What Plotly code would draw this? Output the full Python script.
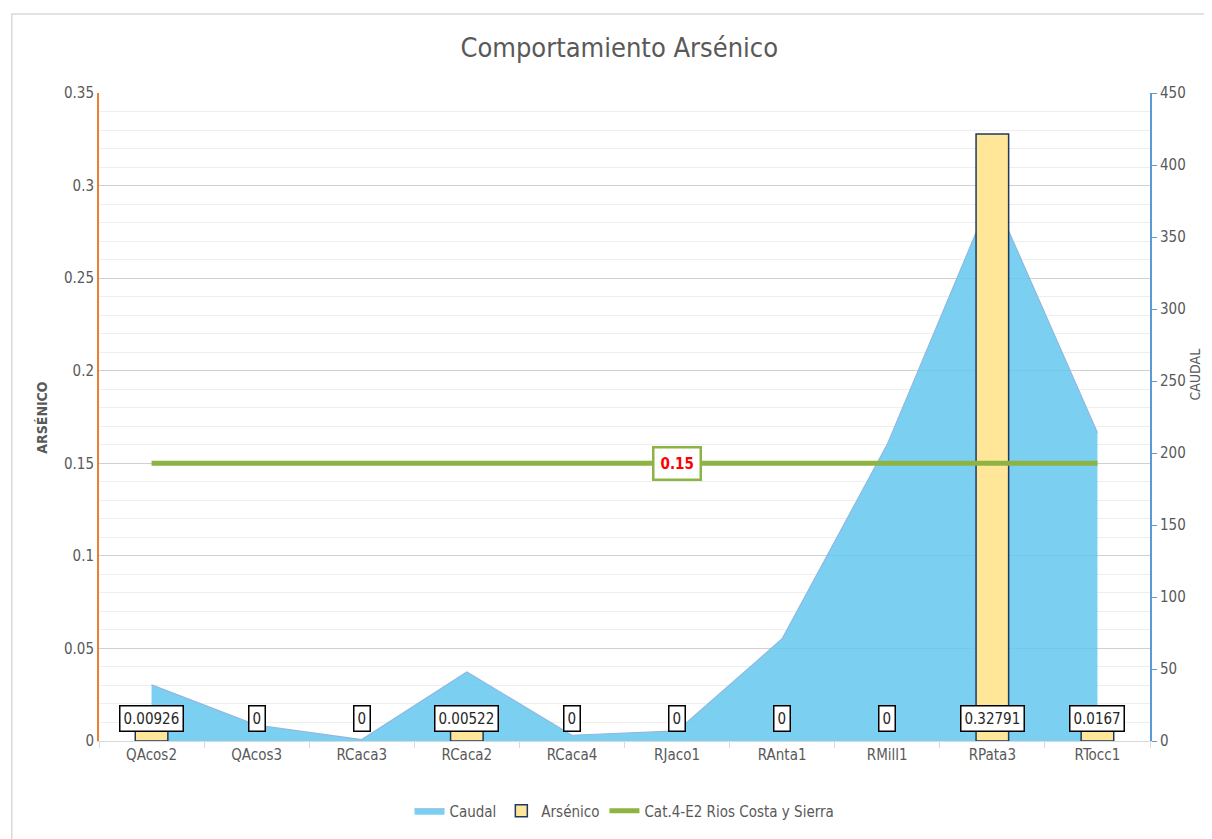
import plotly.graph_objects as go

estaciones = ["QAcos2", "QAcos3", "RCaca3", "RCaca2", "RCaca4",
              "RJaco1", "RAnta1", "RMill1", "RPata3", "RTocc1"]
caudal = [39, 11, 1, 48, 4, 7, 71, 206, 380, 214]
arsenico = [0.00926, 0, 0, 0.00522, 0, 0, 0, 0, 0.32791, 0.0167]
limite = [0.15] * len(estaciones)
limite_nombre = "Cat.4-E2 Rios Costa y Sierra"

FONT = "DejaVu Sans Condensed, Liberation Sans Narrow, Arial Narrow, sans-serif"
GRIS = "#595959"

fig = go.Figure()

# caudal as area (behind)
fig.add_trace(go.Scatter(
    x=estaciones, y=caudal, name="Caudal", mode="lines",
    fill="tozeroy", fillcolor="rgba(100,200,240,0.85)",
    line=dict(color="#8fb8e0", width=1.2),
    yaxis="y"
))

# arsenic bars (no outline where the value is zero)
fig.add_trace(go.Bar(
    x=estaciones, y=arsenico, name="Arsénico",
    marker=dict(color="#FFE699",
                line=dict(color="#1F3864", width=[1.5 if v else 0 for v in arsenico])),
    width=0.31, yaxis="y2"
))

# limit line
fig.add_trace(go.Scatter(
    x=estaciones, y=limite, name=limite_nombre, mode="lines",
    line=dict(color="#8DB443", width=5),
    yaxis="y2"
))

# data labels
for est, val in zip(estaciones, arsenico):
    fig.add_annotation(
        x=est, y=0, xref="x", yref="y2", yanchor="bottom", yshift=9,
        text=f"{val:g}", showarrow=False,
        font=dict(family=FONT, size=15, color="#262626"),
        bgcolor="white", bordercolor="black", borderwidth=1.5, borderpad=3
    )

fig.add_annotation(
    x=estaciones[5], y=limite[5], xref="x", yref="y2",
    text="<b>0.15</b>", showarrow=False,
    font=dict(family=FONT, size=15, color="#FF0000"),
    bgcolor="white", bordercolor="#8DB443", borderwidth=2.5, borderpad=6
)

# axis titles
fig.add_annotation(x=-0.064, y=0.5, xref="paper", yref="paper", textangle=-90,
                   text="<b>ARSÉNICO</b>", showarrow=False,
                   font=dict(family=FONT, size=14, color=GRIS))
fig.add_annotation(x=1.052, y=0.565, xref="paper", yref="paper", textangle=-90,
                   text="CAUDAL", showarrow=False,
                   font=dict(family=FONT, size=14, color=GRIS))

fig.update_layout(
    width=1212, height=839,
    margin=dict(l=91, r=70, t=85, b=106, autoexpand=False),
    paper_bgcolor="white", plot_bgcolor="white",
    font=dict(family=FONT, color=GRIS, size=14),
    title=dict(text="Comportamiento Arsénico", xref="paper", x=0.495, y=0.953,
               xanchor="center", yanchor="middle",
               font=dict(family=FONT, size=27, color=GRIS)),
    xaxis=dict(
        type="category", showgrid=False, showline=True, linecolor="#d9d9d9",
        ticks="outside", tickson="boundaries", tickcolor="#d9d9d9", ticklen=6,
        tickfont=dict(size=15, color=GRIS), automargin=False
    ),
    yaxis=dict(
        side="right", range=[0, 450], dtick=50, showgrid=False,
        showline=True, linecolor="#5B9BD5", linewidth=2,
        ticks="outside", tickcolor="#5B9BD5", ticklen=5,
        tickfont=dict(size=15, color=GRIS), zeroline=False, automargin=False
    ),
    yaxis2=dict(
        overlaying="y", side="left", range=[0, 0.35], dtick=0.05,
        showgrid=True, gridcolor="#d0d0d0", gridwidth=1,
        minor=dict(dtick=0.01, showgrid=True, gridcolor="#eeeeee"),
        showline=True, linecolor="#ED7D31", linewidth=2,
        tickfont=dict(size=15, color=GRIS), zeroline=False, automargin=False
    ),
    legend=dict(orientation="h", x=0.5, xanchor="center", y=-0.108, yanchor="middle",
                font=dict(size=15, color=GRIS), traceorder="normal",
                bgcolor="rgba(0,0,0,0)"),
    shapes=[dict(type="rect", xref="paper", yref="paper",
                 x0=-0.083, x1=1.07, y0=-0.16, y1=1.122,
                 line=dict(color="#d9d9d9", width=1.5))]
)

fig.write_html("out.html")
